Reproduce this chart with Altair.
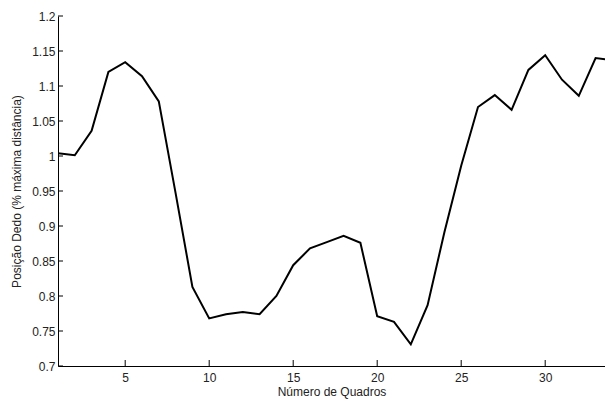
import altair as alt
import pandas as pd

frames = list(range(1, 35))
position = [1.004, 1.001, 1.036, 1.120, 1.134, 1.114, 1.078, 0.947, 0.813, 0.768,
            0.774, 0.777, 0.774, 0.800, 0.844, 0.868, 0.877, 0.886, 0.876, 0.771,
            0.763, 0.731, 0.787, 0.891, 0.986, 1.070, 1.087, 1.066, 1.123, 1.144,
            1.109, 1.086, 1.140, 1.137]

x_ticks = [5, 10, 15, 20, 25, 30]
y_ticks = [0.7, 0.75, 0.8, 0.85, 0.9, 0.95, 1.0, 1.05, 1.1, 1.15, 1.2]

df = pd.DataFrame({"frame": frames, "pos": position})
dfx = pd.DataFrame({"frame": x_ticks})
dfy = pd.DataFrame({"pos": y_ticks})

FONT = "Liberation Sans"
xscale = alt.Scale(domain=[1, 33.56], nice=False, zero=False)
yscale = alt.Scale(domain=[0.7, 1.2], nice=False, zero=False)

xaxis = alt.Axis(values=x_ticks, ticks=False, grid=False, domainColor="black",
                 labelPadding=6, labelOverlap=False, title="Número de Quadros", titlePadding=3,
                 labelFont=FONT, titleFont=FONT, labelFontSize=12, titleFontSize=12,
                 labelColor="#222", titleColor="#222", titleFontWeight="normal")
yaxis = alt.Axis(values=y_ticks, ticks=False, grid=False, domainColor="black",
                 labelPadding=3, labelOverlap=False,
                 title="Posição Dedo (% máxima distância)", titlePadding=8,
                 labelFont=FONT, titleFont=FONT, labelFontSize=12, titleFontSize=12,
                 labelColor="#222", titleColor="#222", titleFontWeight="normal",
                 labelExpr="datum.value == 1 ? '1' : format(datum.value, '.4~f')")

xt = alt.Chart(dfx).mark_rule(color="black", strokeWidth=1).encode(
    x=alt.X("frame:Q", scale=xscale, axis=xaxis), y=alt.value(344), y2=alt.value(350))
yt = alt.Chart(dfy).mark_rule(color="black", strokeWidth=1).encode(
    y=alt.Y("pos:Q", scale=yscale, axis=yaxis), x=alt.value(0), x2=alt.value(5))

line = alt.Chart(df).mark_line(color="black", strokeWidth=2, clip=True).encode(
    x=alt.X("frame:Q", scale=xscale, axis=xaxis),
    y=alt.Y("pos:Q", scale=yscale, axis=yaxis),
)

chart = alt.layer(xt, yt, line).properties(
    width=547, height=350,
    autosize=alt.AutoSizeParams(type="none"),
    padding={"left": 58, "top": 16, "right": 0, "bottom": 46},
).configure_view(stroke=None)

chart.save("out.html", embed_options={"renderer": "svg", "actions": False})
